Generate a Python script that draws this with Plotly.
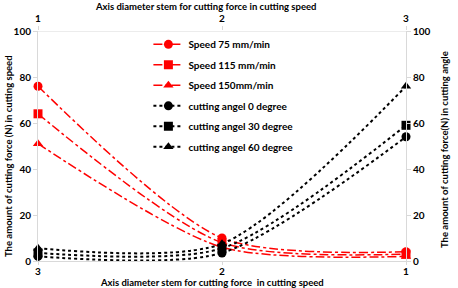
import plotly.graph_objects as go

x_speed = [3, 2, 1]
x_angle = [1, 2, 3]
speed_names = ["Speed 75 mm/min", "Speed 115 mm/min", "Speed 150mm/min"]
speed_values = [
    [76, 10, 4],
    [64, 8, 3],
    [51, 6, 2],
]
angle_names = ["cutting angel 0 degree", "cutting angel 30 degree", "cutting angel 60 degree"]
angle_values = [
    [2, 3.5, 54],
    [3.5, 5.5, 59],
    [5.5, 7.5, 76],
]
symbols = ["circle", "square", "triangle-up"]
y_ticks = [0, 20, 40, 60, 80, 100]

FONT = "Lato"
W, H = 458, 288
L, R, T, B = 38, 52, 31, 27
fig = go.Figure()

for i, (name, vals, sym) in enumerate(zip(speed_names, speed_values, symbols)):
    fig.add_trace(go.Scatter(
        x=x_speed, y=vals, name=f"<b>{name}</b>", mode="lines+markers",
        legendgroup=f"s{i}",
        line=dict(color="#ff0000", width=1.5, dash="dashdot", shape="spline", smoothing=0.75),
        marker=dict(symbol=sym, size=9, color="#ff0000"),
        xaxis="x", yaxis="y", cliponaxis=False,
    ))

for i, (name, vals, sym) in enumerate(zip(angle_names, angle_values, symbols)):
    fig.add_trace(go.Scatter(
        x=x_angle, y=vals, name=f"<b>{name}</b>", mode="lines+markers",
        legendgroup=f"a{i}",
        line=dict(color="#000000", width=2, dash="dot", shape="spline", smoothing=0.75),
        marker=dict(symbol=sym, size=9, color="#000000"),
        xaxis="x2", yaxis="y2", cliponaxis=False,
    ))

tickfont = dict(family=FONT, size=10, color="#000000")
titlefont = dict(family=FONT, size=9.5, color="#000000")
PW, PH = W - L - R, H - T - B

annotations = [
    dict(text="<b>Axis diameter stem for cutting force in cutting speed</b>",
         xref="paper", yref="paper", x=(205 - L) / PW, y=(H - B - 7) / PH,
         showarrow=False, font=titlefont, xanchor="center", yanchor="middle"),
    dict(text="<b>Axis diameter stem for cutting force  in cutting speed</b>",
         xref="paper", yref="paper", x=(212 - L) / PW, y=(H - B - 282.5) / PH,
         showarrow=False, font=titlefont, xanchor="center", yanchor="middle"),
    dict(text="<b>The amount of cutting force (N) in cutting speed</b>",
         xref="paper", yref="paper", x=(8 - L) / PW, y=(H - B - 156) / PH,
         showarrow=False, font=titlefont, xanchor="center", yanchor="middle", textangle=-90),
    dict(text="<b>The amount of cutting force(N) in cutting angle</b>",
         xref="paper", yref="paper", x=(444 - L) / PW, y=(H - B - 149) / PH,
         showarrow=False, font=titlefont, xanchor="center", yanchor="middle", textangle=-90),
]

fig.update_layout(
    width=W, height=H,
    margin=dict(l=L, r=R, t=T, b=B, autoexpand=False),
    paper_bgcolor="white", plot_bgcolor="white",
    font=dict(family=FONT, size=10, color="#000000"),
    showlegend=True,
    legend=dict(x=0.30, y=1.005, xanchor="left", yanchor="top",
                font=dict(family=FONT, size=10, color="#000000"),
                bgcolor="rgba(0,0,0,0)", tracegroupgap=1.5, itemwidth=30),
    xaxis=dict(range=[3, 1], tickvals=[3, 2, 1], ticktext=["<b>3</b>", "<b>2</b>", "<b>1</b>"],
               showgrid=False, showline=True, linecolor="#d9d9d9", linewidth=1,
               ticks="outside", ticklen=3, tickcolor="#d9d9d9", ticklabelstandoff=-2,
               tickfont=tickfont, zeroline=False, automargin=False),
    xaxis2=dict(range=[1, 3], tickvals=[1, 2, 3], ticktext=["<b>1</b>", "<b>2</b>", "<b>3</b>"],
                overlaying="x", side="top", showgrid=False, showline=False,
                ticks="outside", ticklen=4, tickcolor="#d9d9d9",
                tickfont=tickfont, zeroline=False, automargin=False),
    yaxis=dict(range=[0, 100], tickvals=y_ticks, ticktext=[f"<b>{v}</b>" for v in y_ticks],
               showgrid=False, showline=True, linecolor="#d9d9d9", linewidth=1,
               ticks="outside", ticklen=4, tickcolor="#d9d9d9",
               tickfont=tickfont, zeroline=False, automargin=False),
    yaxis2=dict(range=[0, 100], tickvals=y_ticks, ticktext=[f"<b>{v}</b>" for v in y_ticks],
                overlaying="y", side="right", showgrid=False, showline=True,
                linecolor="#d9d9d9", linewidth=1,
                ticks="outside", ticklen=4, tickcolor="#d9d9d9",
                tickfont=tickfont, zeroline=False, automargin=False),
    shapes=[dict(type="line", xref="paper", yref="y", x0=0, x1=1, y0=100, y1=100,
                 line=dict(color="#d9d9d9", width=1))],
    annotations=annotations,
)

fig.write_html("out.html")
